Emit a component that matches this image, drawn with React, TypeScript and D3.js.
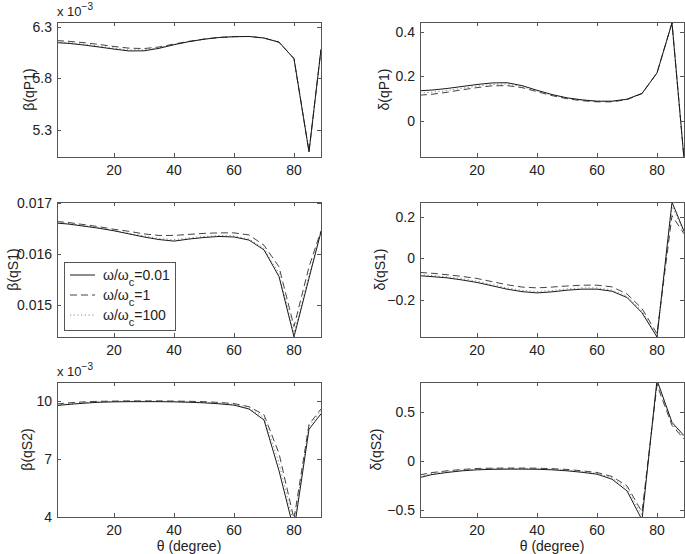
import React from "react";
import * as d3 from "d3";

const theta = [1, 5, 10, 15, 20, 25, 30, 35, 40, 45, 50, 55, 60, 65, 70, 75, 80, 85, 89];
const xTicks = [20, 40, 60, 80];

// beta(qP1) x 1e-3
const bP1_a = [6.145, 6.138, 6.122, 6.103, 6.083, 6.065, 6.066, 6.09, 6.125, 6.155, 6.178, 6.195, 6.203, 6.205, 6.19, 6.15, 5.99, 5.09, 6.08];
const bP1_b = [6.165, 6.158, 6.145, 6.128, 6.108, 6.092, 6.088, 6.103, 6.132, 6.158, 6.18, 6.196, 6.203, 6.205, 6.19, 6.15, 5.99, 5.09, 6.08];
const bP1_c = [6.15, 6.145, 6.13, 6.112, 6.093, 6.075, 6.075, 6.096, 6.128, 6.156, 6.179, 6.195, 6.203, 6.205, 6.19, 6.15, 5.99, 5.09, 6.08];
// delta(qP1)
const dP1_a = [0.135, 0.138, 0.145, 0.154, 0.163, 0.17, 0.171, 0.158, 0.137, 0.118, 0.103, 0.094, 0.088, 0.088, 0.097, 0.123, 0.215, 0.44, -0.17];
const dP1_b = [0.115, 0.119, 0.128, 0.139, 0.149, 0.157, 0.158, 0.149, 0.131, 0.113, 0.099, 0.09, 0.085, 0.085, 0.095, 0.122, 0.215, 0.44, -0.17];
const dP1_c = [0.125, 0.128, 0.136, 0.146, 0.156, 0.163, 0.165, 0.154, 0.134, 0.116, 0.101, 0.092, 0.087, 0.087, 0.096, 0.123, 0.215, 0.44, -0.17];
// beta(qS1)
const bS1_a = [0.0166, 0.01658, 0.01654, 0.0165, 0.01645, 0.01639, 0.01633, 0.01628, 0.01625, 0.01629, 0.01632, 0.01634, 0.01633, 0.01627, 0.01608, 0.01556, 0.01439, 0.01553, 0.01643];
const bS1_b = [0.01663, 0.01661, 0.01657, 0.01653, 0.01648, 0.01644, 0.01639, 0.01636, 0.01636, 0.01638, 0.0164, 0.01641, 0.01641, 0.01637, 0.01617, 0.01575, 0.01459, 0.01575, 0.01645];
const bS1_c = [0.01661, 0.01659, 0.01655, 0.01651, 0.01646, 0.0164, 0.01635, 0.0163, 0.01628, 0.01631, 0.01634, 0.01636, 0.01635, 0.01629, 0.01611, 0.01562, 0.01447, 0.01558, 0.01644];
// delta(qS1)
const dS1_a = [-0.083, -0.087, -0.093, -0.103, -0.115, -0.131, -0.147, -0.159, -0.165, -0.16, -0.152, -0.147, -0.147, -0.157, -0.187, -0.26, -0.376, 0.269, 0.13];
const dS1_b = [-0.067, -0.071, -0.078, -0.086, -0.096, -0.111, -0.126, -0.137, -0.141, -0.137, -0.132, -0.128, -0.128, -0.136, -0.17, -0.24, -0.36, 0.205, 0.118];
const dS1_c = [-0.078, -0.082, -0.088, -0.097, -0.109, -0.125, -0.141, -0.153, -0.158, -0.154, -0.146, -0.141, -0.141, -0.151, -0.181, -0.253, -0.37, 0.25, 0.125];
// beta(qS2) x 1e-3
const bS2_a = [9.78, 9.84, 9.9, 9.95, 9.97, 9.98, 9.98, 9.98, 9.97, 9.95, 9.92, 9.87, 9.8, 9.6, 9.03, 6.4, 3.3, 8.55, 9.35];
const bS2_b = [9.86, 9.92, 9.97, 10.0, 10.01, 10.02, 10.02, 10.02, 10.01, 10.0, 9.98, 9.94, 9.88, 9.72, 9.3, 7.3, 3.9, 8.8, 9.6];
const bS2_c = [9.81, 9.87, 9.93, 9.97, 9.99, 10.0, 10.0, 10.0, 9.99, 9.97, 9.95, 9.9, 9.84, 9.66, 9.15, 6.8, 3.6, 8.7, 9.5];
// delta(qS2)
const dS2_a = [-0.17, -0.14, -0.119, -0.102, -0.092, -0.087, -0.085, -0.085, -0.086, -0.092, -0.102, -0.117, -0.136, -0.187, -0.306, -0.6, 0.82, 0.39, 0.255];
const dS2_b = [-0.143, -0.12, -0.102, -0.088, -0.078, -0.075, -0.074, -0.074, -0.075, -0.08, -0.088, -0.102, -0.119, -0.16, -0.255, -0.52, 0.77, 0.36, 0.22];
const dS2_c = [-0.157, -0.13, -0.11, -0.095, -0.085, -0.081, -0.08, -0.08, -0.081, -0.086, -0.095, -0.11, -0.128, -0.174, -0.28, -0.56, 0.8, 0.375, 0.238];

const legendLabels = ["0.01", "1", "100"];

const panels = [
  { ylabel: "β(qP1)", series: [bP1_a, bP1_b, bP1_c], domain: [5.039, 6.345], ticks: [5.3, 5.8, 6.3], fmt: ".1f", exp: true, col: 0, row: 0, labOff: 28 },
  { ylabel: "δ(qP1)", series: [dP1_a, dP1_b, dP1_c], domain: [-0.163, 0.444], ticks: [0, 0.2, 0.4], fmt: "g", exp: false, col: 1, row: 0, labOff: 36 },
  { ylabel: "β(qS1)", series: [bS1_a, bS1_b, bS1_c], domain: [0.014386, 0.01701], ticks: [0.015, 0.016, 0.017], fmt: ".3f", exp: false, col: 0, row: 1, labOff: 44 },
  { ylabel: "δ(qS1)", series: [dS1_a, dS1_b, dS1_c], domain: [-0.376, 0.27], ticks: [-0.2, 0, 0.2], fmt: "g", exp: false, col: 1, row: 1, labOff: 40 },
  { ylabel: "β(qS2)", series: [bS2_a, bS2_b, bS2_c], domain: [4, 11], ticks: [4, 7, 10], fmt: "d", exp: true, col: 0, row: 2, labOff: 30 },
  { ylabel: "δ(qS2)", series: [dS2_a, dS2_b, dS2_c], domain: [-0.571, 0.8], ticks: [-0.5, 0, 0.5], fmt: "g", exp: false, col: 1, row: 2, labOff: 44 },
];

const W = 685, H = 554;
const colLeft = [57, 420];
const rowTop = [22, 202, 382];
const PW = 264, PH = 135;
const FS = 14;
const FONT = "'Liberation Sans', Arial, Helvetica, sans-serif";
const styles = [
  { stroke: "#1a1a1a", dash: "none", width: 1 },
  { stroke: "#444", dash: "7,4", width: 1 },
  { stroke: "#888", dash: "1.2,2.5", width: 1 },
];

function fmtTick(v: number, f: string) {
  let s: string;
  if (f === "g") s = v === 0 ? "0" : String(v);
  else if (f === "d") s = d3.format("d")(v);
  else s = d3.format(f)(v);
  return s.replace("-", "−");
}

function Panel({ p, idx }: { p: any; idx: number }) {
  const left = colLeft[p.col];
  const top = rowTop[p.row];
  const x = d3.scaleLinear().domain([1, 89]).range([left, left + PW]);
  const y = d3.scaleLinear().domain(p.domain).range([top + PH, top]);
  const clipId = `clip${idx}`;
  const axisColor = "#555";
  const tl = 4;
  return (
    <g>
      <defs>
        <clipPath id={clipId}>
          <rect x={left} y={top} width={PW} height={PH} />
        </clipPath>
      </defs>
      <rect x={left} y={top} width={PW} height={PH} fill="white" stroke="none" />
      <g clipPath={`url(#${clipId})`}>
        {[2, 1, 0].map((si) => {
          const line = d3
            .line<number>()
            .x((_, i) => x(theta[i]))
            .y((d) => y(d));
          const st = styles[si];
          return (
            <path
              key={si}
              d={line(p.series[si]) || ""}
              fill="none"
              stroke={st.stroke}
              strokeWidth={st.width}
              strokeDasharray={st.dash}
            />
          );
        })}
      </g>
      <rect x={left + 0.5} y={top + 0.5} width={PW} height={PH} fill="none" stroke={axisColor} strokeWidth={1} />
      {xTicks.map((t) => (
        <g key={"x" + t}>
          <line x1={Math.round(x(t)) + 0.5} x2={Math.round(x(t)) + 0.5} y1={top + PH} y2={top + PH - tl} stroke={axisColor} />
          <line x1={Math.round(x(t)) + 0.5} x2={Math.round(x(t)) + 0.5} y1={top} y2={top + tl} stroke={axisColor} />
          <text x={x(t)} y={top + PH + 18} textAnchor="middle" fontSize={FS} fill="#222" fontFamily={FONT}>
            {t}
          </text>
        </g>
      ))}
      {p.ticks.map((t: number) => (
        <g key={"y" + t}>
          <line x1={left} x2={left + tl} y1={Math.round(y(t)) + 0.5} y2={Math.round(y(t)) + 0.5} stroke={axisColor} />
          <line x1={left + PW} x2={left + PW - tl} y1={Math.round(y(t)) + 0.5} y2={Math.round(y(t)) + 0.5} stroke={axisColor} />
          <text x={left - 5} y={y(t)} dy="0.36em" textAnchor="end" fontSize={FS} fill="#222" fontFamily={FONT}>
            {fmtTick(t, p.fmt)}
          </text>
        </g>
      ))}
      <text
        transform={`translate(${left - p.labOff},${top + PH / 2}) rotate(-90)`}
        textAnchor="middle"
        dy="0.35em"
        fontSize={FS}
        fill="#222"
        fontFamily={FONT}
      >
        {p.ylabel}
      </text>
      {p.exp && (
        <text x={left} y={top - 6} fontSize={13} fill="#222" fontFamily={FONT}>
          x 10
          <tspan dy={-6} fontSize={10}>
            −3
          </tspan>
        </text>
      )}
      {p.row === 2 && (
        <text x={left + PW / 2} y={top + PH + 34} textAnchor="middle" fontSize={FS} fill="#222" fontFamily={FONT}>
          θ (degree)
        </text>
      )}
    </g>
  );
}

function Legend() {
  const lx = 64, ly = 262, lw = 111, lh = 68;
  return (
    <g>
      <rect x={lx + 0.5} y={ly + 0.5} width={lw} height={lh} fill="white" stroke="#555" />
      {legendLabels.map((lab, i) => {
        const cy = ly + 13 + i * 20;
        const st = styles[i];
        return (
          <g key={lab}>
            <line x1={lx + 6} x2={lx + 31} y1={cy} y2={cy} stroke={st.stroke} strokeWidth={st.width} strokeDasharray={st.dash} />
            <text x={lx + 39} y={cy + 5} fontSize={FS} fill="#222" fontFamily={FONT}>
              ω/ω
              <tspan dy={6} fontSize={11}>c</tspan>
              <tspan dy={-6}>={lab}</tspan>
            </text>
          </g>
        );
      })}
    </g>
  );
}

export default function App() {
  return (
    <svg width={W} height={H} style={{ position: "absolute", left: 0, top: 0, background: "white" }}>
      <rect x={0} y={0} width={W} height={H} fill="white" />
      {panels.map((p, i) => (
        <Panel key={i} p={p} idx={i} />
      ))}
      <Legend />
    </svg>
  );
}
